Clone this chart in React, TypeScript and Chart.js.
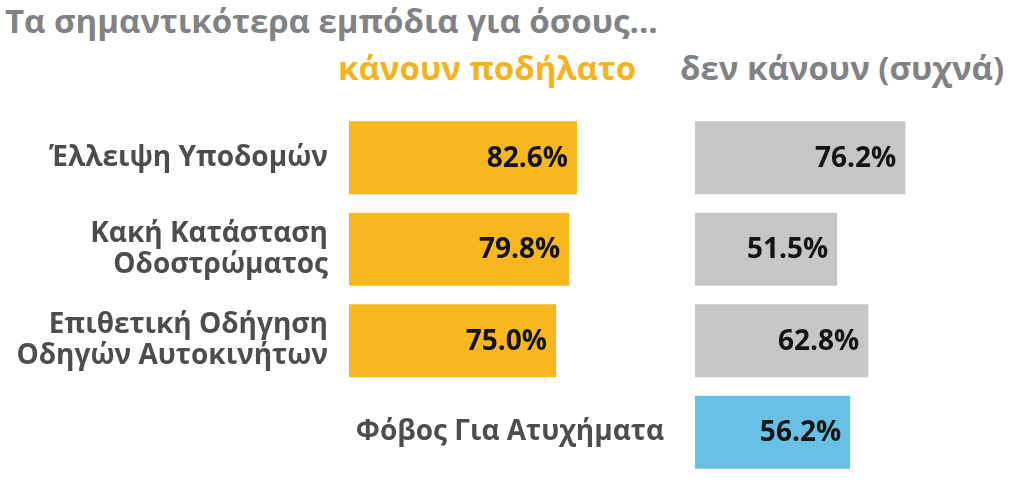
import React, { useEffect, useRef } from "react";
import { Chart, registerables } from "chart.js";

Chart.register(...registerables);

const titleText = "Τα σημαντικότερα εμπόδια για όσους...";
const headerCyclists = "κάνουν ποδήλατο";
const headerNonCyclists = "δεν κάνουν (συχνά)";

const leftLabels: (string | string[])[] = [
  "Έλλειψη Υποδομών",
  ["Κακή Κατάσταση", "Οδοστρώματος"],
  ["Επιθετική Οδήγηση", "Οδηγών Αυτοκινήτων"],
  "",
];
const rightLabels: string[] = ["", "", "", "Φόβος Για Ατυχήματα"];

const cyclistValues: (number | null)[] = [82.6, 79.8, 75.0, null];
const nonCyclistValues: number[] = [76.2, 51.5, 62.8, 56.2];

const YELLOW = "#F8B71F";
const GRAY_BAR = "#C6C6C6";
const BLUE = "#66C1E4";
const nonCyclistColors = [GRAY_BAR, GRAY_BAR, GRAY_BAR, BLUE];

const FONT = '"Open Sans", "Noto Sans", sans-serif';

const valueLabelPlugin = {
  id: "valueLabels",
  afterDatasetsDraw(chart: any) {
    const ctx = chart.ctx;
    const ds = chart.data.datasets[0];
    chart.getDatasetMeta(0).data.forEach((bar: any, i: number) => {
      const v = ds.data[i];
      if (v == null) return;
      ctx.save();
      ctx.font = `700 28px ${FONT}`;
      ctx.fillStyle = "#141414";
      ctx.textAlign = "right";
      ctx.textBaseline = "middle";
      ctx.fillText(v.toFixed(1) + "%", bar.x - 9, bar.y + 1);
      ctx.restore();
    });
  },
};

function makeConfig(labels: any[], values: any[], colors: any, axisWidth: number, tickPad: number) {
  return {
    type: "bar" as const,
    data: {
      labels,
      datasets: [
        {
          data: values,
          backgroundColor: colors,
          borderWidth: 0,
          barPercentage: 0.8,
          categoryPercentage: 1.0,
        },
      ],
    },
    options: {
      indexAxis: "y" as const,
      responsive: false,
      animation: false as const,
      layout: { padding: 0 },
      plugins: { legend: { display: false }, tooltip: { enabled: false }, title: { display: false } },
      scales: {
        x: { display: false, min: 0, max: 100 },
        y: {
          grid: { display: false, drawTicks: false },
          border: { display: false },
          ticks: {
            color: "#4D4D4F",
            padding: tickPad,
            autoSkip: false,
            font: { family: FONT, size: 28, weight: "700" as const, lineHeight: 1.12 },
          },
          afterFit(scale: any) {
            scale.width = axisWidth;
            scale.paddingTop = 0;
            scale.paddingBottom = 0;
          },
        },
      },
    },
    plugins: [valueLabelPlugin],
  };
}

export default function App() {
  const leftRef = useRef<HTMLCanvasElement>(null);
  const rightRef = useRef<HTMLCanvasElement>(null);

  useEffect(() => {
    const left = new Chart(leftRef.current!, makeConfig(leftLabels, cyclistValues, YELLOW, 349, 21) as any);
    const right = new Chart(rightRef.current!, makeConfig(rightLabels, nonCyclistValues, nonCyclistColors, 345, 31) as any);
    return () => {
      left.destroy();
      right.destroy();
    };
  }, []);

  const chartTop = 112;
  const chartHeight = 366;

  return (
    <div style={{ position: "relative", width: 1024, height: 485, background: "#fff", overflow: "hidden", fontFamily: FONT }}>
      <style>{"body{margin:0}"}</style>
      <div
        style={{
          position: "absolute",
          left: 5,
          top: 4,
          fontSize: 33,
          lineHeight: "33px",
          fontWeight: 700,
          color: "#808285",
          whiteSpace: "nowrap",
        }}
      >
        {titleText}
      </div>
      <div
        style={{
          position: "absolute",
          left: 338,
          top: 51,
          fontSize: 33,
          lineHeight: "33px",
          fontWeight: 700,
          color: "#F5B21C",
          whiteSpace: "nowrap",
        }}
      >
        {headerCyclists}
      </div>
      <div
        style={{
          position: "absolute",
          left: 680,
          top: 51,
          fontSize: 33,
          lineHeight: "33px",
          fontWeight: 700,
          color: "#808285",
          whiteSpace: "nowrap",
        }}
      >
        {headerNonCyclists}
      </div>
      <canvas
        ref={leftRef}
        width={625}
        height={chartHeight}
        style={{ position: "absolute", left: 0, top: chartTop, width: 625, height: chartHeight }}
      />
      <canvas
        ref={rightRef}
        width={621}
        height={chartHeight}
        style={{ position: "absolute", left: 350, top: chartTop, width: 621, height: chartHeight }}
      />
    </div>
  );
}
